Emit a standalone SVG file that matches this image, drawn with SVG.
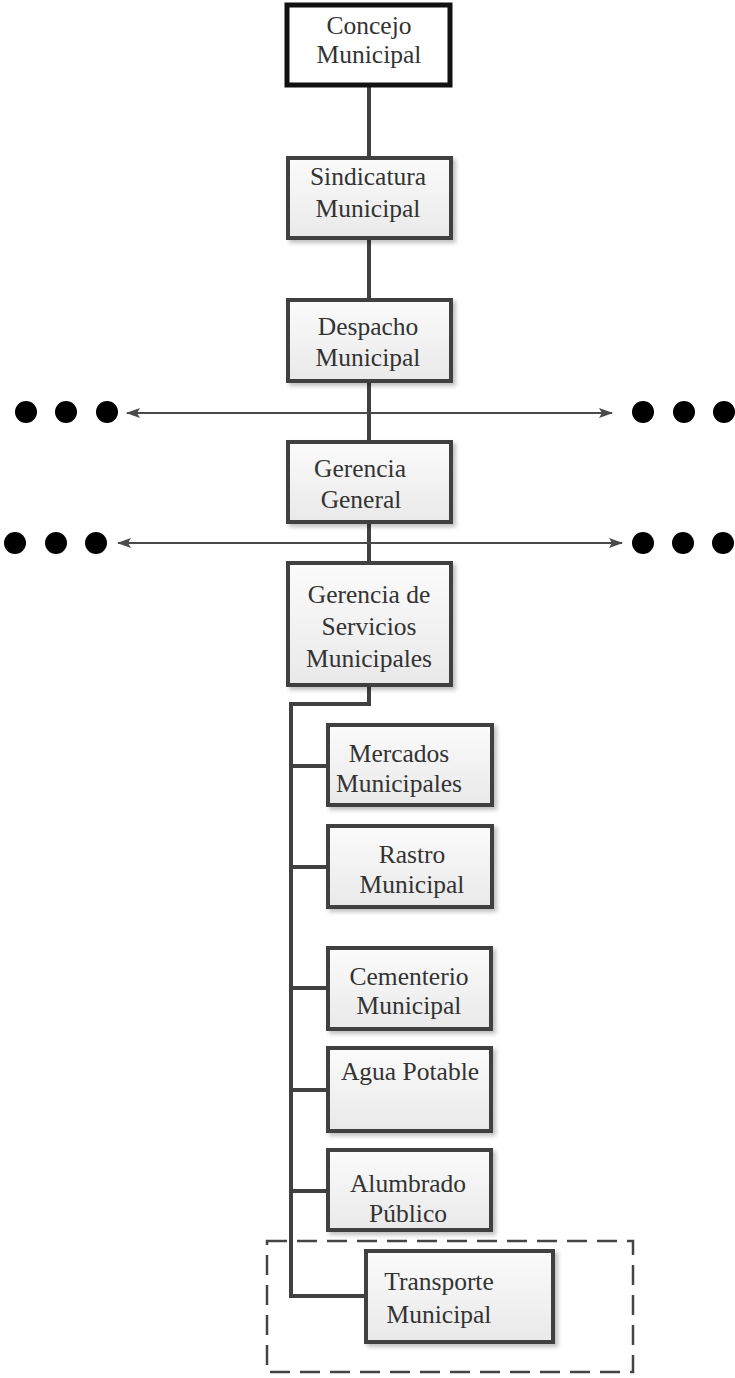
<svg xmlns="http://www.w3.org/2000/svg" width="735" height="1378" viewBox="0 0 735 1378">
  <defs>
    <linearGradient id="boxFill" x1="0" y1="0" x2="0" y2="1">
      <stop offset="0" stop-color="#fbfbfb"/>
      <stop offset="1" stop-color="#e9e9e9"/>
    </linearGradient>
    <filter id="shadow" x="-10%" y="-10%" width="130%" height="130%">
      <feGaussianBlur in="SourceAlpha" stdDeviation="2"/>
      <feOffset dx="3" dy="3" result="b"/>
      <feComponentTransfer><feFuncA type="linear" slope="0.25"/></feComponentTransfer>
      <feMerge><feMergeNode/><feMergeNode in="SourceGraphic"/></feMerge>
    </filter>
    <marker id="arrow" viewBox="0 0 14 10" refX="13" refY="5" markerWidth="14" markerHeight="10" markerUnits="userSpaceOnUse" orient="auto-start-reverse">
      <path d="M0,0 L14,5 L0,10 L3,5 Z" fill="#4a4a4a"/>
    </marker>
  </defs>
  <style>
    .box { fill: url(#boxFill); stroke: #404040; stroke-width: 4; filter: url(#shadow); }
    .top { fill: #ffffff; stroke: #111; stroke-width: 5; }
    .lbl { font-family: "Liberation Serif", "Times New Roman", serif; font-size: 25.5px; fill: #333; text-anchor: middle; }
    .wire { fill: none; stroke: #404040; stroke-width: 4; }
    .hline { fill: none; stroke: #4a4a4a; stroke-width: 2.2; }
    .dot { fill: #000; }
    .frame { fill: none; stroke: #444; stroke-width: 2.5; stroke-dasharray: 20 10; }
  </style>

  <!-- connectors -->
  <g id="connectors">
    <line class="wire" x1="369" y1="87" x2="369" y2="158"/>
    <line class="wire" x1="369" y1="239" x2="369" y2="300"/>
    <line class="wire" x1="369" y1="381" x2="369" y2="442"/>
    <line class="wire" x1="369" y1="522" x2="369" y2="563"/>
    <path class="wire" d="M369,685 V704 H291 V1296 H366"/>
    <line class="wire" x1="291" y1="766" x2="328" y2="766"/>
    <line class="wire" x1="291" y1="867" x2="328" y2="867"/>
    <line class="wire" x1="291" y1="988" x2="328" y2="988"/>
    <line class="wire" x1="291" y1="1090" x2="328" y2="1090"/>
    <line class="wire" x1="291" y1="1191" x2="328" y2="1191"/>
    <line class="hline" x1="127" y1="413" x2="612" y2="413" marker-start="url(#arrow)" marker-end="url(#arrow)"/>
    <line class="hline" x1="118" y1="543" x2="622" y2="543" marker-start="url(#arrow)" marker-end="url(#arrow)"/>
  </g>

  <!-- continuation dots -->
  <g id="dots-row1">
    <circle class="dot" cx="26" cy="412" r="11"/>
    <circle class="dot" cx="66" cy="412" r="11"/>
    <circle class="dot" cx="107" cy="412" r="11"/>
    <circle class="dot" cx="643" cy="412" r="11"/>
    <circle class="dot" cx="684" cy="412" r="11"/>
    <circle class="dot" cx="724" cy="412" r="11"/>
  </g>
  <g id="dots-row2">
    <circle class="dot" cx="15" cy="543" r="11"/>
    <circle class="dot" cx="56" cy="543" r="11"/>
    <circle class="dot" cx="96" cy="543" r="11"/>
    <circle class="dot" cx="643" cy="543" r="11"/>
    <circle class="dot" cx="683" cy="543" r="11"/>
    <circle class="dot" cx="723" cy="543" r="11"/>
  </g>

  <g id="concejo">
    <rect class="top" x="287" y="5" width="163" height="80"/>
    <text class="lbl" x="369" y="34">Concejo</text>
    <text class="lbl" x="369" y="63">Municipal</text>
  </g>
  <g id="sindicatura">
    <rect class="box" x="288" y="158" width="163" height="80"/>
    <text class="lbl" x="368" y="185">Sindicatura</text>
    <text class="lbl" x="368" y="217">Municipal</text>
  </g>
  <g id="despacho">
    <rect class="box" x="288" y="300" width="163" height="81"/>
    <text class="lbl" x="368" y="335">Despacho</text>
    <text class="lbl" x="368" y="366">Municipal</text>
  </g>
  <g id="gerencia-general">
    <rect class="box" x="288" y="442" width="163" height="80"/>
    <text class="lbl" x="360" y="477">Gerencia</text>
    <text class="lbl" x="361" y="508">General</text>
  </g>
  <g id="gerencia-servicios">
    <rect class="box" x="288" y="563" width="163" height="122"/>
    <text class="lbl" x="369" y="603">Gerencia de</text>
    <text class="lbl" x="369" y="635">Servicios</text>
    <text class="lbl" x="369" y="667">Municipales</text>
  </g>
  <g id="mercados">
    <rect class="box" x="328" y="725" width="164" height="80"/>
    <text class="lbl" x="399" y="762">Mercados</text>
    <text class="lbl" x="399" y="792">Municipales</text>
  </g>
  <g id="rastro">
    <rect class="box" x="328" y="826" width="164" height="81"/>
    <text class="lbl" x="412" y="863">Rastro</text>
    <text class="lbl" x="412" y="893">Municipal</text>
  </g>
  <g id="cementerio">
    <rect class="box" x="328" y="948" width="163" height="81"/>
    <text class="lbl" x="409" y="985">Cementerio</text>
    <text class="lbl" x="409" y="1014">Municipal</text>
  </g>
  <g id="agua">
    <rect class="box" x="328" y="1048" width="163" height="83"/>
    <text class="lbl" x="410" y="1080">Agua Potable</text>
  </g>
  <g id="alumbrado">
    <rect class="box" x="328" y="1150" width="163" height="80"/>
    <text class="lbl" x="408" y="1192">Alumbrado</text>
    <text class="lbl" x="408" y="1222">Público</text>
  </g>
  <g id="transporte">
    <rect class="frame" x="267" y="1241" width="366" height="131"/>
    <rect class="box" x="366" y="1251" width="187" height="91"/>
    <text class="lbl" x="439" y="1290">Transporte</text>
    <text class="lbl" x="439" y="1323">Municipal</text>
  </g>
</svg>
